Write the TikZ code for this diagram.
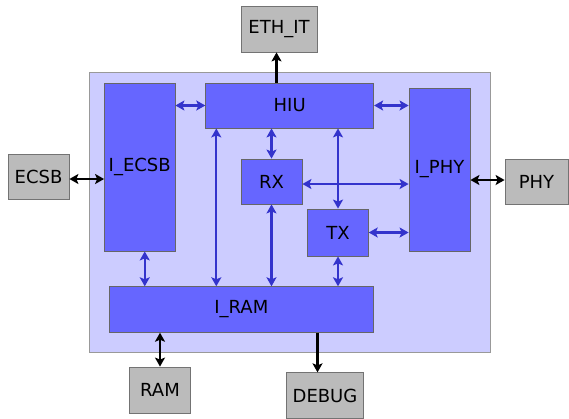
\documentclass[tikz,border=0pt]{standalone}
\usepackage{fontspec}
\setmainfont{DejaVu Sans}
\usepackage{tikz}
\usetikzlibrary{positioning, arrows.meta}
\definecolor{blockblue}{RGB}{102,102,255}
\definecolor{coreblue}{RGB}{204,204,255}
\definecolor{linkblue}{RGB}{51,51,204}
\definecolor{extgray}{RGB}{187,187,187}
\tikzset{
    x=1pt, y=-1pt, % one unit is one pixel of the drawing, y grows downwards
    >={Stealth[length=9pt,width=10pt,inset=2pt]}, % filled arrow heads
    every node/.style={font=\fontsize{18}{20}\selectfont, inner sep=0pt}, % text of all boxes
    block/.style={draw=black!60, fill=blockblue, line width=0.8pt}, % inner blue modules
    extbox/.style={draw=black!55, fill=extgray, line width=0.8pt}, % outside gray boxes
    link/.style={<->, draw=linkblue, line width=2.2pt}, % blue inner connections
    port/.style={draw=black, line width=2.6pt}, % black outside connections
}
\begin{document}
\begin{tikzpicture}
    \useasboundingbox (0,0) rectangle (569,418);
    % core frame
    \draw[draw=black!40, fill=coreblue, line width=1pt] (89,72) rectangle (490,352.5);
    % inner modules
    \node[block, minimum width=168pt, minimum height=45pt] (HIU) at (289.7,105.5) {HIU};
    \node[block, minimum width=70.5pt, minimum height=168pt] (IECSB) at (139.75,167) {I\_ECSB};
    \node[block, minimum width=61pt, minimum height=163pt] (IPHY) at (439.5,169.5) {I\_PHY};
    \node[block, minimum width=61pt, minimum height=45pt] (RX) at (271.5,181.5) {RX};
    \node[block, minimum width=60.6pt, minimum height=47pt] (TX) at (338,232.5) {TX};
    \node[block, minimum width=264.8pt, minimum height=45.6pt] (IRAM) at (241.3,309.5) {I\_RAM};
    % outside boxes
    \node[extbox, minimum width=76pt, minimum height=46pt] (ETHIT) at (279,29) {ETH\_IT};
    \node[extbox, minimum width=61pt, minimum height=45pt] (ECSB) at (38.5,176.5) {ECSB};
    \node[extbox, minimum width=63pt, minimum height=45pt] (PHY) at (536.5,181.5) {PHY};
    \node[extbox, minimum width=61pt, minimum height=46pt] (RAM) at (160,390) {RAM};
    \node[extbox, minimum width=76.6pt, minimum height=45.5pt] (DEBUG) at (325,395.5) {DEBUG};
    % blue links
    \draw[link] (HIU.west -| IECSB.east) -- (HIU.west);
    \draw[link] (HIU.east) -- (HIU.east -| IPHY.west);
    \draw[link] ([xshift=11pt]HIU.south west) -- ([xshift=11pt]HIU.south west |- IRAM.north);
    \draw[link] (RX.north) -- (RX.north |- HIU.south);
    \draw[link] (TX.north) -- (TX.north |- HIU.south);
    \draw[link] ([yshift=-2.5pt]RX.east) -- ([yshift=-2.5pt]RX.east -| IPHY.west);
    \draw[link] (TX.east) -- (TX.east -| IPHY.west);
    \draw[link] ([xshift=5pt]IECSB.south) -- ([xshift=5pt]IECSB.south |- IRAM.north);
    \draw[link] (RX.south) -- (RX.south |- IRAM.north);
    \draw[link] (TX.south) -- (TX.south |- IRAM.north);
    % black ports
    \draw[port, ->] ([xshift=-2.5pt]ETHIT.south |- HIU.north) -- ([xshift=-2.5pt]ETHIT.south);
    \draw[port, <->] ([yshift=-2.5pt]ECSB.east) -- ([yshift=-2.5pt]ECSB.east -| IECSB.west);
    \draw[port, <->] ([yshift=1.5pt]PHY.west -| IPHY.east) -- ([yshift=1.5pt]PHY.west);
    \draw[port, <->] (RAM.north |- IRAM.south) -- (RAM.north);
    \draw[port, ->] ([xshift=-7.5pt]DEBUG.north |- IRAM.south) -- ([xshift=-7.5pt]DEBUG.north);
\end{tikzpicture}
\end{document}
